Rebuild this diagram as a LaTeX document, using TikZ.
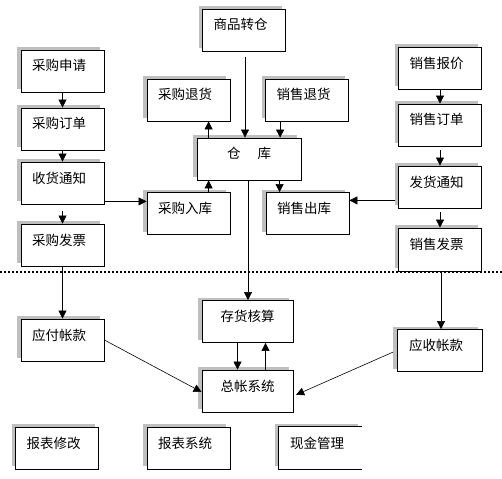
\documentclass[tikz,border=0pt]{standalone}
\usepackage{fontspec}
\setmainfont{Noto Sans CJK SC}
\usepackage{tikz}
\usetikzlibrary{arrows.meta,shadows}

\tikzset{
  kuang/.style={draw, line width=0.8pt, fill=white, minimum width=83pt, minimum height=42pt,
    inner sep=0pt, text height=8pt, text depth=8pt,
    drop shadow={shadow xshift=-4pt, shadow yshift=3pt, fill=black!25, opacity=1}},
  zuo/.style={execute at end node={\hspace{7pt}}},
  jt/.style={line width=0.6pt, -{Triangle[width=8pt,length=8pt]}}
}

\begin{document}
\begin{tikzpicture}[x=1pt,y=-1pt]
\fontsize{13.5}{15}\selectfont
\useasboundingbox (0,0) rectangle (502,478);
% left column
\node[kuang,zuo] (cgsq) at (62.5,71) {采购申请};
\node[kuang,zuo] (cgdd) at (62.5,129) {采购订单};
\node[kuang,zuo] (shtz) at (62.5,183) {收货通知};
\node[kuang,zuo] (cgfp) at (62.5,245) {采购发票};
\node[kuang,zuo] (yfkk) at (62.5,340) {应付帐款};
\node[kuang,zuo] (bbxg) at (57,448) {报表修改};
% middle
\node[kuang,zuo] (spzc) at (244,30) {商品转仓};
\node[kuang,zuo] (cgth) at (188.5,100) {采购退货};
\node[kuang, minimum width=104pt] (ck) at (249,159) {仓\hspace{17pt}库};
\node[kuang,zuo] (cgrk) at (188.5,213.5) {采购入库};
\node[kuang,zuo] (xsth) at (307,100) {销售退货};
\node[kuang,zuo] (xsck) at (307.5,213.5) {销售出库};
\node[kuang, minimum width=91pt] (chhs) at (247.5,321.5) {存货核算};
\node[kuang, minimum width=91pt] (zzxt) at (247.5,391) {总帐系统};
\node[kuang,zuo] (bbxt) at (188.5,448) {报表系统};
\node[kuang,zuo, draw=none] (xjgl) at (320.5,448) {现金管理};
\draw[line width=0.8pt] (xjgl.north east) -- (xjgl.north west) -- (xjgl.south west) -- (xjgl.south east);
% right column
\node[kuang,zuo] (xsbj) at (440,68.5) {销售报价};
\node[kuang,zuo] (xsdd) at (440,125) {销售订单};
\node[kuang,zuo] (fhtz) at (440,187) {发货通知};
\node[kuang,zuo, minimum height=43pt] (xsfp) at (440,249.5) {销售发票};
\node[kuang,zuo, minimum width=85pt] (yskk) at (439.5,350.5) {应收帐款};
% dotted separator
\coordinate (fg1) at (0,272);
\coordinate (fg2) at (502,272);
\draw[line width=2pt, dash pattern=on 2pt off 2pt] (fg1) -- (fg2);
% purchase flow
\draw[jt] (cgsq.south) -- (cgdd.north);
\draw[jt] (cgdd.south) -- (shtz.north);
\draw[jt, shorten <=7pt] (shtz.south) -- (cgfp.north);
\draw[jt] (cgfp.south) -- (yfkk.north);
\draw[jt] ([yshift=3pt]shtz.south east) -- ([yshift=3pt]shtz.south east -| cgrk.west);
\draw[jt] ([xshift=12pt]ck.south west |- cgrk.north) -- ([xshift=12pt]ck.south west);
\draw[jt] ([xshift=12pt]ck.north west) -- ([xshift=12pt]ck.north west |- cgth.south);
% warehouse
\draw[jt, shorten <=6pt] ([xshift=1pt]spzc.south) -- ([xshift=1pt]spzc.south |- ck.north);
\draw[jt] ([xshift=15pt]xsth.south west) -- ([xshift=15pt]xsth.south west |- ck.north);
\draw[jt] ([xshift=14pt]xsck.north west |- ck.south) -- ([xshift=14pt]xsck.north west);
\draw[jt] ([xshift=-1pt]ck.south) -- ([xshift=-1pt]ck.south |- chhs.north);
% sales flow
\draw[jt] (xsbj.south) -- (xsdd.north);
\draw[jt, shorten <=4pt] (xsdd.south) -- (fhtz.north);
\draw[jt, shorten <=4pt] (fhtz.south) -- (xsfp.north);
\draw[jt] ([xshift=1pt]xsfp.south) -- ([xshift=1pt]xsfp.south |- yskk.north);
\draw[jt, shorten <=3pt] ([yshift=8pt]fhtz.south west) -- ([yshift=8pt]fhtz.south west -| xsck.east);
% accounting
\draw[jt] ([xshift=-10pt]chhs.south) -- ([xshift=-10pt]zzxt.north);
\draw[jt] ([xshift=18pt]zzxt.north) -- ([xshift=18pt]chhs.south);
\draw[jt] (yfkk.east) -- ([yshift=-1pt]zzxt.west);
\draw[jt, shorten <=4pt, shorten >=3pt] (yskk.west) -- ([yshift=-5pt]zzxt.east);
\end{tikzpicture}
\end{document}
